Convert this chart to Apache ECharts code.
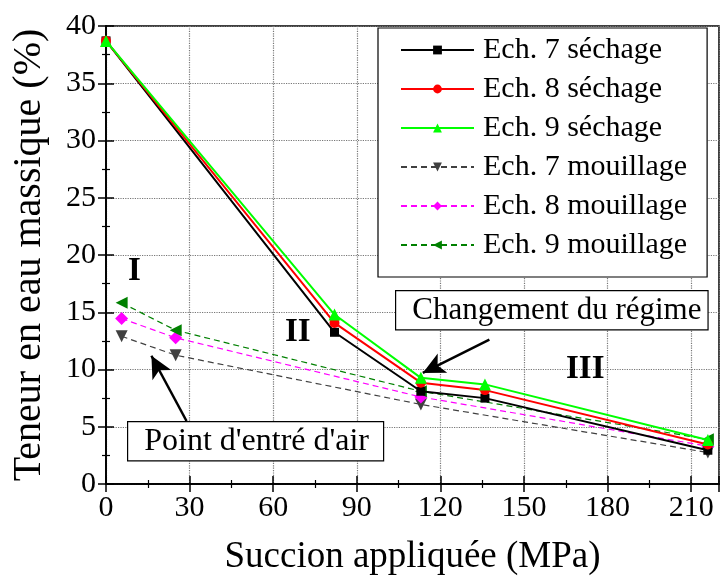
<!DOCTYPE html>
<html><head><meta charset="utf-8">
<script src="https://cdn.jsdelivr.net/npm/echarts@6/dist/echarts.min.js"></script>
<style>html,body{margin:0;padding:0;background:#fff}#c{width:720px;height:581px}</style>
</head><body><div id="c"></div>
<script>
// ---- data ----
const sech7 = [[0,38.7],[82,13.25],[113,8.1],[136,7.5],[216,2.95]];
const sech8 = [[0,38.7],[82,14.07],[113,8.85],[136,8.2],[216,3.45]];
const sech9 = [[0,38.7],[82,14.8],[113,9.27],[136,8.7],[216,3.85]];
const mouil7 = [[5.6,12.9],[25,11.25],[113,6.95],[216,2.75]];
const mouil8 = [[5.6,14.45],[25,12.77],[113,7.6],[216,3.3]];
const mouil9 = [[5.6,15.82],[25,13.43],[113,8.1],[216,3.9]];
const names = ['Ech. 7 séchage','Ech. 8 séchage','Ech. 9 séchage','Ech. 7 mouillage','Ech. 8 mouillage','Ech. 9 mouillage'];
const xTitle = 'Succion appliquée (MPa)';
const yTitle = 'Teneur en eau massique (%)';
const arrowRegime = [[137.6,12.6],[113.7,9.7]];
const arrowAir = [[28.9,5.5],[16.3,11.2]];

const FONT = '"Liberation Serif", "DejaVu Serif", serif';
const chart = echarts.init(document.getElementById('c'), null, {renderer:'canvas'});

function axisCommon(){
  return {
    axisLine:{show:true,lineStyle:{color:'#000',width:1.5}},
    axisTick:{show:true,inside:true,length:8,lineStyle:{color:'#000',width:1.5}},
    minorTick:{show:true,splitNumber:2,length:4,lineStyle:{color:'#000',width:1.2}},
  };
}

const sechStyle = (color, symbol, rot) => ({
  type:'line', symbol, symbolRotate:rot||0, symbolSize: symbol==='triangle'?12:(symbol==='rect'?9:10),
  itemStyle:{color}, lineStyle:{color,width:2}, z:3
});
const mouStyle = (color, symbol, rot) => ({
  type:'line', symbol, symbolRotate:rot||0, symbolSize: symbol==='diamond'?13:12,
  itemStyle:{color}, lineStyle:{color,width:1.2,type:[6,4]}, z:2
});

const option = {
  animation:false,
  backgroundColor:'#fff',
  grid:{left:106,right:1,top:26,bottom:96,show:true,borderColor:'#000',borderWidth:1.5},
  legend:{
    left:378, top:28, orient:'vertical',
    data:names,
    itemWidth:73, itemHeight:11, itemGap:9,
    padding:[7,20,17,22],
    backgroundColor:'#fff', borderColor:'#000', borderWidth:1.2,
    textStyle:{fontFamily:FONT,fontSize:30,color:'#000',lineHeight:30,padding:[0,0,0,4]}
  },
  xAxis:[
    Object.assign({type:'value',min:0,max:220,interval:30,
      name:xTitle,nameLocation:'middle',nameGap:55,
      nameTextStyle:{fontFamily:FONT,fontSize:37,color:'#000'},
      axisLabel:{fontFamily:FONT,fontSize:30,color:'#000',margin:9,showMaxLabel:false},
      splitLine:{show:true,lineStyle:{color:'#777',type:'dotted',width:1.2}}
    }, axisCommon()),
    Object.assign({type:'value',min:0,max:220,interval:30,position:'top',
      axisLabel:{show:false},splitLine:{show:false}}, axisCommon())
  ],
  yAxis:[
    Object.assign({type:'value',min:0,max:40,interval:5,
      name:yTitle,nameLocation:'middle',nameGap:57,
      nameTextStyle:{fontFamily:FONT,fontSize:40,color:'#000'},
      axisLabel:{fontFamily:FONT,fontSize:30,color:'#000',margin:10},
      splitLine:{show:true,lineStyle:{color:'#777',type:'dotted',width:1.2}}
    }, axisCommon()),
    Object.assign({type:'value',min:0,max:40,interval:5,position:'right',
      axisLabel:{show:false},splitLine:{show:false}}, axisCommon())
  ],
  series:[
    Object.assign({name:names[3],data:mouil7}, mouStyle('#404040','triangle',180)),
    Object.assign({name:names[4],data:mouil8}, mouStyle('#ff00ff','diamond')),
    Object.assign({name:names[5],data:mouil9}, mouStyle('#008000','triangle',90)),
    Object.assign({name:names[0],data:sech7}, sechStyle('#000000','rect')),
    Object.assign({name:names[1],data:sech8}, sechStyle('#ff0000','circle')),
    Object.assign({name:names[2],data:sech9,
      markLine:{silent:true,symbol:['none','arrow'],symbolSize:[16,22],
        lineStyle:{color:'#000',width:2.5,type:'solid'},label:{show:false},
        data:[
          [{coord:arrowRegime[0]},{coord:arrowRegime[1]}],
          [{coord:arrowAir[0]},{coord:arrowAir[1]}]
        ]}
    }, sechStyle('#00ff00','triangle'))
  ],
  graphic:[
    {type:'text',x:128,y:255,style:{text:'I',font:'bold 33px '+FONT,fill:'#000'},z:10},
    {type:'text',x:285,y:316,style:{text:'II',font:'bold 33px '+FONT,fill:'#000'},z:10},
    {type:'text',x:566,y:353,style:{text:'III',font:'bold 33px '+FONT,fill:'#000'},z:10},
    {type:'text',left:395,top:290,z:10,style:{text:'Changement du régime',font:'31px '+FONT,fill:'#000',
      backgroundColor:'#fff',borderColor:'#000',borderWidth:1.2,padding:[4,6,3,16]}},
    {type:'text',left:127,top:421,z:10,style:{text:"Point d'entré d'air",font:'32px '+FONT,fill:'#000',
      backgroundColor:'#fff',borderColor:'#000',borderWidth:1.2,padding:[3,14,3,16]}}
  ]
};
chart.setOption(option);
</script></body></html>
